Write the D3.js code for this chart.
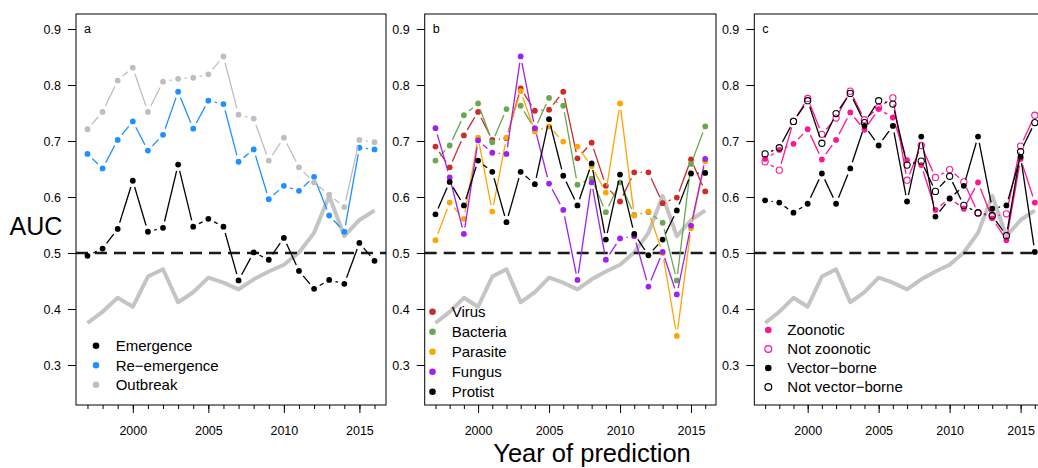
<!DOCTYPE html>
<html><head><meta charset="utf-8">
<script src="https://cdn.jsdelivr.net/npm/d3@7"></script>
<style>
body{margin:0;background:#fff;}
svg{display:block;font-family:"Liberation Sans",Arial,Helvetica,sans-serif;}
</style>
</head><body>
<svg id="chart" width="1038" height="468"></svg>
<script>
// ---------------- DATA ----------------
const years = [1997,1998,1999,2000,2001,2002,2003,2004,2005,2006,2007,2008,2009,2010,2011,2012,2013,2014,2015,2016];
const yTicks = [0.3,0.4,0.5,0.6,0.7,0.8,0.9];
const xLabelTicks = [2000,2005,2010,2015];
const baselineValue = 0.5;

// grey reference curve (same in every panel)
const reference = [0.375,0.395,0.420,0.404,0.458,0.471,0.412,0.430,0.456,0.447,0.435,0.453,0.467,0.479,0.501,0.536,0.602,0.530,0.559,0.576];

// panel a
const emergence   = [0.495,0.508,0.543,0.629,0.538,0.545,0.658,0.547,0.561,0.547,0.451,0.501,0.488,0.527,0.468,0.436,0.452,0.445,0.518,0.486];
const reEmergence = [0.677,0.651,0.702,0.735,0.683,0.711,0.788,0.722,0.772,0.766,0.663,0.685,0.596,0.620,0.611,0.636,0.567,0.538,0.688,0.685];
const outbreak    = [0.721,0.752,0.808,0.831,0.752,0.806,0.811,0.813,0.819,0.851,0.747,0.740,0.665,0.706,0.653,0.626,0.604,0.582,0.702,0.698];

// panel b
const virus    = [0.690,0.653,0.710,0.752,0.702,0.705,0.794,0.754,0.756,0.788,0.669,0.697,0.620,0.592,0.644,0.644,0.589,0.599,0.667,0.610];
const bacteria = [0.665,0.692,0.746,0.767,0.698,0.757,0.763,0.721,0.777,0.763,0.622,0.633,0.573,0.626,0.568,0.573,0.554,0.451,0.659,0.726];
const parasite = [0.523,0.590,0.561,0.706,0.574,0.706,0.789,0.717,0.726,0.699,0.690,0.655,0.608,0.767,0.567,0.574,0.500,0.352,0.544,0.664];
const fungus   = [0.723,0.635,0.534,0.701,0.679,0.677,0.851,0.723,0.624,0.577,0.452,0.626,0.488,0.526,0.530,0.440,0.502,0.426,0.549,0.668];
const protist  = [0.569,0.627,0.585,0.665,0.645,0.555,0.645,0.623,0.739,0.638,0.585,0.660,0.524,0.640,0.534,0.496,0.524,0.576,0.642,0.643];

// panel c
const zoonotic     = [0.668,0.684,0.695,0.721,0.667,0.702,0.751,0.720,0.757,0.742,0.666,0.657,0.577,0.598,0.579,0.626,0.562,0.523,0.668,0.590];
const notZoonotic  = [0.663,0.648,0.735,0.776,0.712,0.741,0.789,0.738,0.760,0.777,0.630,0.692,0.635,0.649,0.627,0.571,0.565,0.570,0.691,0.746];
const vectorBorne  = [0.594,0.590,0.572,0.588,0.642,0.588,0.651,0.727,0.692,0.727,0.592,0.708,0.565,0.597,0.620,0.708,0.579,0.585,0.672,0.502];
const notVector    = [0.677,0.688,0.735,0.772,0.696,0.749,0.785,0.733,0.772,0.766,0.657,0.664,0.610,0.637,0.585,0.572,0.567,0.531,0.681,0.733];

const seriesNamesA = ["Emergence","Re\u2212emergence","Outbreak"];
const seriesNamesB = ["Virus","Bacteria","Parasite","Fungus","Protist"];
const seriesNamesC = ["Zoonotic","Not zoonotic","Vector\u2212borne","Not vector\u2212borne"];

// ---------------- DRAWING ----------------
const svg = d3.select("#chart");
const plotTop = 14, plotBottom = 405;
const y = d3.scaleLinear().domain([0.2286, 0.9268]).range([plotBottom, plotTop]);

const panels = [
  {label:"a", x0:76, x1:386, legend:{dx:20, tx:39.7, y0:345.7, step:19.5},
   series:[
     {name:seriesNamesA[0], values:emergence, color:"#000", fill:true},
     {name:seriesNamesA[1], values:reEmergence, color:"#1E90FF", fill:true},
     {name:seriesNamesA[2], values:outbreak, color:"#BEBEBE", fill:true}
   ]},
  {label:"b", x0:424.7, x1:716, legend:{dx:7.8, tx:27, y0:311.7, step:20},
   series:[
     {name:seriesNamesB[0], values:virus, color:"#CD2A2A", fill:true},
     {name:seriesNamesB[1], values:bacteria, color:"#6AA84F", fill:true},
     {name:seriesNamesB[2], values:parasite, color:"#FFA500", fill:true},
     {name:seriesNamesB[3], values:fungus, color:"#A020F0", fill:true},
     {name:seriesNamesB[4], values:protist, color:"#000", fill:true}
   ]},
  {label:"c", x0:754.3, x1:1045.6, legend:{dx:14, tx:33, y0:330, step:19},
   series:[
     {name:seriesNamesC[0], values:zoonotic, color:"#FF1493", fill:true},
     {name:seriesNamesC[1], values:notZoonotic, color:"#FF1493", fill:false},
     {name:seriesNamesC[2], values:vectorBorne, color:"#000", fill:true},
     {name:seriesNamesC[3], values:notVector, color:"#000", fill:false}
   ]}
];

const GAP = 6.5;

panels.forEach(p => {
  const x = d3.scaleLinear().domain([years[0]-0.76, years[years.length-1]+0.76]).range([p.x0, p.x1]);
  const g = svg.append("g");

  // reference grey curve
  g.append("path")
    .datum(reference)
    .attr("d", d3.line().x((d,i)=>x(years[i])).y(d=>y(d)))
    .attr("fill","none").attr("stroke","#C4C4C4").attr("stroke-width",4).attr("stroke-linejoin","round");

  // dashed 0.5 line
  g.append("line")
    .attr("x1", p.x0).attr("x2", p.x1).attr("y1", y(baselineValue)).attr("y2", y(baselineValue))
    .attr("stroke","#1a1a1a").attr("stroke-width",2.4).attr("stroke-dasharray","12,7");

  // series (type "b": lines with gaps around points)
  p.series.forEach(s => {
    const pts = s.values.map((v,i)=>[x(years[i]), y(v)]);
    const segs = [];
    for (let i=0;i<pts.length-1;i++){
      const [xa,ya]=pts[i],[xb,yb]=pts[i+1];
      const dx=xb-xa, dy=yb-ya, len=Math.hypot(dx,dy);
      if (len > 2*GAP){
        const ux=dx/len, uy=dy/len;
        segs.push([xa+ux*GAP, ya+uy*GAP, xb-ux*GAP, yb-uy*GAP]);
      }
    }
    g.append("g").selectAll("line").data(segs).join("line")
      .attr("x1",d=>d[0]).attr("y1",d=>d[1]).attr("x2",d=>d[2]).attr("y2",d=>d[3])
      .attr("stroke", s.color).attr("stroke-width",1.3);
    g.append("g").selectAll("circle").data(pts).join("circle")
      .attr("cx",d=>d[0]).attr("cy",d=>d[1])
      .attr("r", s.fill ? 2.9 : 3.1)
      .attr("fill", s.fill ? s.color : "none")
      .attr("stroke", s.fill ? "none" : s.color)
      .attr("stroke-width", 1.1);
  });

  // frame
  g.append("rect").attr("x",p.x0).attr("y",plotTop).attr("width",p.x1-p.x0).attr("height",plotBottom-plotTop)
    .attr("fill","none").attr("stroke","#000").attr("stroke-width",1);

  // y axis
  const ya = g.append("g").attr("transform",`translate(${p.x0},0)`)
    .call(d3.axisLeft(y).tickValues(yTicks).tickSize(8).tickPadding(7).tickFormat(d3.format(".1f")));
  ya.select(".domain").remove();
  ya.selectAll("text").attr("font-size",12.5).attr("font-family","'Liberation Sans',Arial,sans-serif").attr("fill","#000");
  ya.selectAll("line").attr("stroke","#000");

  // x axis minor + major
  const xm = g.append("g").attr("transform",`translate(0,${plotBottom})`)
    .call(d3.axisBottom(x).tickValues(years).tickSize(4).tickFormat(""));
  xm.select(".domain").remove();
  xm.selectAll("line").attr("stroke","#000");
  const xM = g.append("g").attr("transform",`translate(0,${plotBottom})`)
    .call(d3.axisBottom(x).tickValues(xLabelTicks).tickSize(8).tickPadding(13).tickFormat(d3.format("d")));
  xM.select(".domain").remove();
  xM.selectAll("line").attr("stroke","#000");
  xM.selectAll("text").attr("font-size",12.5).attr("font-family","'Liberation Sans',Arial,sans-serif").attr("fill","#000");

  // panel label
  g.append("text").attr("x",p.x0+8).attr("y",33).attr("font-size",12.5).text(p.label);

  // legend
  p.series.forEach((s,i)=>{
    const ly = p.legend.y0 + i*p.legend.step;
    g.append("circle").attr("cx",p.x0+p.legend.dx).attr("cy",ly)
      .attr("r", s.fill ? 3.3 : 3.4)
      .attr("fill", s.fill ? s.color : "none")
      .attr("stroke", s.fill ? "none" : s.color).attr("stroke-width",1.2);
    g.append("text").attr("x",p.x0+p.legend.tx).attr("y",ly).attr("dy","0.36em")
      .attr("font-size",15).attr("fill","#000").text(s.name);
  });
});

// axis titles
svg.append("text").attr("x",36).attr("y",226).attr("dy","0.36em").attr("text-anchor","middle")
  .attr("font-size",25).text("AUC");
svg.append("text").attr("x",592).attr("y",462).attr("text-anchor","middle")
  .attr("font-size",25.5).text("Year of prediction");
</script>
</body></html>
